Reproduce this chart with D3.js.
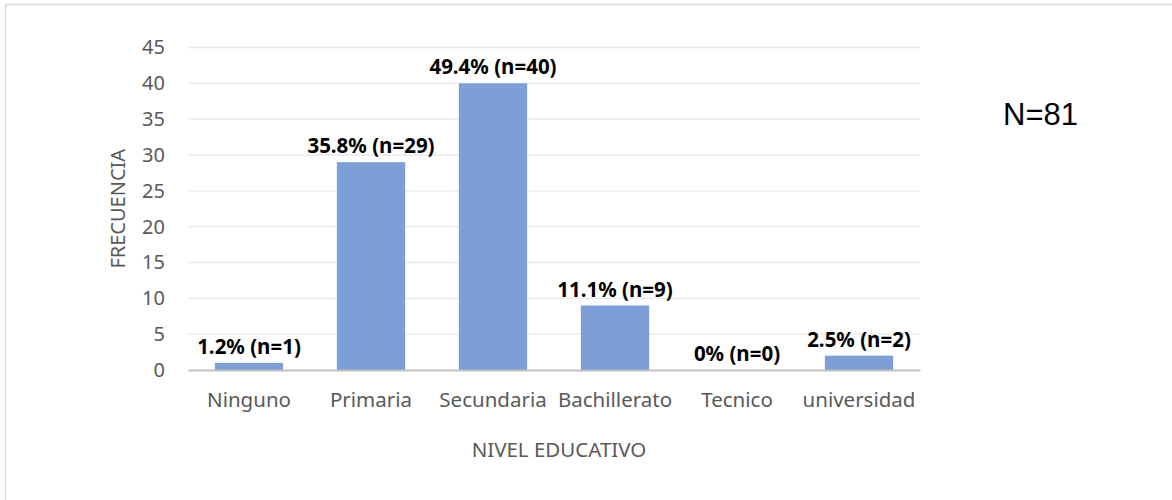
<!DOCTYPE html>
<html>
<head>
<meta charset="utf-8">
<script src="https://cdn.jsdelivr.net/npm/d3@7"></script>
<style>
  body { margin: 0; background: #fff; }
  text { font-family: "Noto Sans", "Open Sans", sans-serif; }
</style>
</head>
<body>
<div id="chart"></div>
<script>
// data
var categories = ["Ninguno", "Primaria", "Secundaria", "Bachillerato", "Tecnico", "universidad"];
var counts = [1, 29, 40, 9, 0, 2];
var labels = ["1.2% (n=1)", "35.8% (n=29)", "49.4% (n=40)", "11.1% (n=9)", "0% (n=0)", "2.5% (n=2)"];
var yTicks = [0, 5, 10, 15, 20, 25, 30, 35, 40, 45];

var width = 1172, height = 500;
var margin = { top: 47.5, right: 252, bottom: 130, left: 188 };
var innerW = width - margin.left - margin.right;
var innerH = height - margin.top - margin.bottom;

var svg = d3.select("#chart").append("svg")
    .attr("width", width)
    .attr("height", height);

// outer frame
svg.append("rect")
    .attr("x", 5.5).attr("y", 4.5)
    .attr("width", width + 10).attr("height", height + 10)
    .attr("fill", "none")
    .attr("stroke", "#d9d9d9")
    .attr("stroke-width", 1.5);

var g = svg.append("g")
    .attr("transform", "translate(" + margin.left + "," + margin.top + ")");

var x = d3.scaleBand()
    .domain(categories)
    .range([0, innerW])
    .paddingInner(0.44)
    .paddingOuter(0.22);

var y = d3.scaleLinear()
    .domain([0, 45])
    .range([innerH, 0]);

// gridlines
g.selectAll(".grid").data(yTicks.slice(1)).enter()
    .append("line")
    .attr("x1", 0).attr("x2", innerW)
    .attr("y1", function (d) { return y(d); })
    .attr("y2", function (d) { return y(d); })
    .attr("stroke", "#e8e8e8")
    .attr("stroke-width", 1.3);

// y axis labels
var yAxis = g.append("g")
    .call(d3.axisLeft(y).tickValues(yTicks).tickSize(0).tickPadding(23));
yAxis.select(".domain").remove();
yAxis.selectAll("text")
    .attr("fill", "#595959")
    .style("font-size", "20px");

// bars
g.selectAll(".bar").data(counts).enter()
    .append("rect")
    .attr("x", function (d, i) { return x(categories[i]); })
    .attr("y", function (d) { return y(d); })
    .attr("width", x.bandwidth())
    .attr("height", function (d) { return innerH - y(d); })
    .attr("fill", "#7b9fd6");

// baseline / x axis
var xAxis = g.append("g")
    .attr("transform", "translate(0," + innerH + ")")
    .call(d3.axisBottom(x).tickSize(0).tickPadding(22));
xAxis.select(".domain")
    .attr("stroke", "#bfbfbf")
    .attr("stroke-width", 2.2);
xAxis.selectAll("text")
    .attr("fill", "#595959")
    .style("font-size", "20.5px");

// data labels
g.selectAll(".lbl").data(counts).enter()
    .append("text")
    .attr("x", function (d, i) { return x(categories[i]) + x.bandwidth() / 2; })
    .attr("y", function (d) { return y(d) - 9; })
    .attr("text-anchor", "middle")
    .attr("font-weight", "bold")
    .attr("fill", "#000")
    .style("font-size", "20.5px")
    .text(function (d, i) { return labels[i]; });

// axis titles
svg.append("text")
    .attr("transform", "translate(125," + (margin.top + innerH / 2) + ") rotate(-90)")
    .attr("text-anchor", "middle")
    .attr("fill", "#595959")
    .style("font-size", "20px")
    .text("FRECUENCIA");

svg.append("text")
    .attr("x", margin.left + innerW / 2 + 5)
    .attr("y", 457)
    .attr("text-anchor", "middle")
    .attr("fill", "#595959")
    .style("font-size", "20.5px")
    .text("NIVEL EDUCATIVO");

// N annotation
svg.append("text")
    .attr("x", 1003)
    .attr("y", 125)
    .attr("fill", "#000")
    .style("font-family", "'Liberation Sans', Arial, sans-serif")
    .style("font-size", "31px")
    .text("N=81");
</script>
</body>
</html>
